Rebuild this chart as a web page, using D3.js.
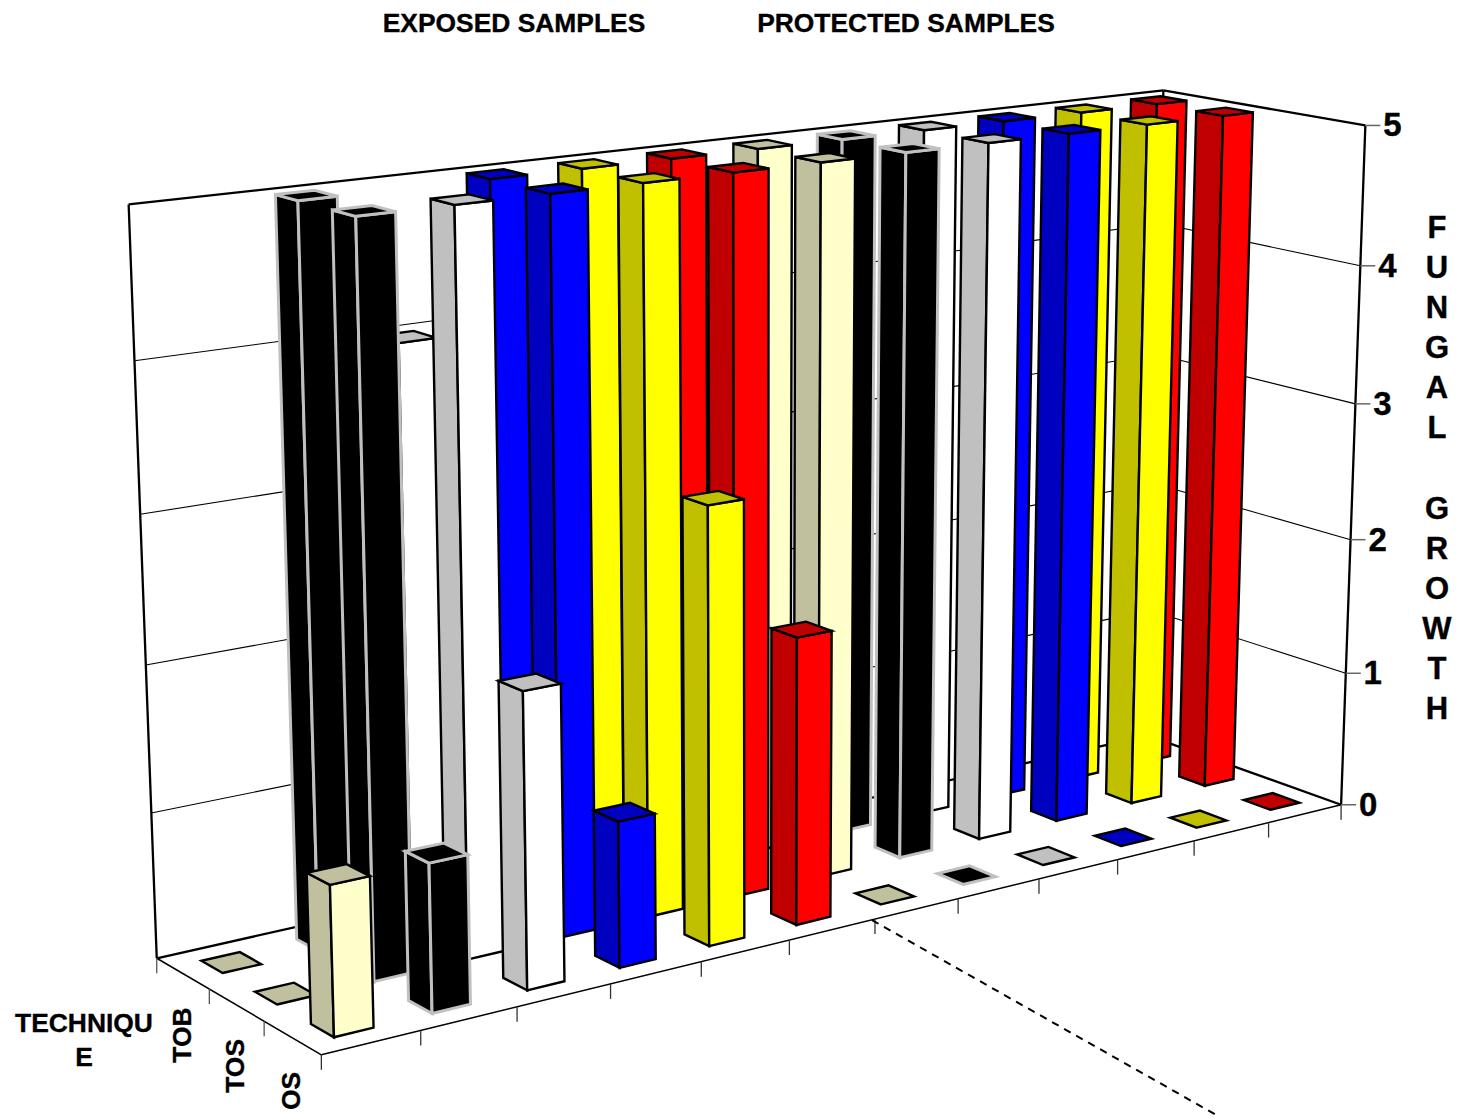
<!DOCTYPE html>
<html>
<head>
<meta charset="utf-8">
<script src="https://cdn.jsdelivr.net/npm/d3@7/dist/d3.min.js"></script>
<style>
html,body{margin:0;padding:0;background:#fff}
svg{display:block}
text{font-family:"Liberation Sans",Arial,sans-serif;font-weight:bold;fill:#000;stroke:#000;stroke-width:0.35px}
</style>
</head>
<body>
<svg id="chart" width="1460" height="1120"></svg>
<script>
// ---- data ----
const samples = ["E1","E2","E3","E4","E5","E6","P1","P2","P3","P4","P5","P6"];
const techniques = ["OS","TOS","TOB"];
const osValues  = [1,1,2,1,3,2,0,0,0,0,0,0];
const tosValues = [0,5,5,5,5,5,5,5,5,5,5,5];
const tobValues = [0,5,4,5,5,5,5,5,5,5,5,5];
const valueTicks = [0,1,2,3,4,5];
const faceColors = ["#FFFFCC","#000000","#FFFFFF","#0000FF","#FFFF00","#FF0000",
                    "#FFFFCC","#000000","#FFFFFF","#0000FF","#FFFF00","#FF0000"];
const sideColors = ["#C0C09F","#000000","#C0C0C0","#0000C0","#C0C000","#C00000",
                    "#C0C09F","#000000","#C0C0C0","#0000C0","#C0C000","#C00000"];
const edgeColors = ["#000","#C0C0C0","#000","#000","#000","#000",
                    "#000","#C0C0C0","#000","#000","#000","#000"];
const titles = ["EXPOSED SAMPLES","PROTECTED SAMPLES"];
const sideTitle = ["F","U","N","G","A","L","","G","R","O","W","T","H"];
const rowTitle = ["TECHNIQU","E"];

// ---- camera: 3x4 projection fitted to the box's visible corners ----
// [cell x, cell depth, value, pixel x, pixel y]
const anchors = [
  [0,0,0,321,1054],[12,0,0,1342,804],[0,3,0,157,958],[12,3,0,1147,736],
  [0,3,5,128,204],[12,3,5,1164,90],[12,0,5,1365,126],
  [12,0,1,1346,673],[12,0,4,1360,266],[0,3,1,152,813],[0,3,4,135,361],
  [6,0,0,875,920],[0,1,0,264,1021],[0,2,0,209,990]
];
function fitCamera(pts){
  const n=11, A=d3.range(n).map(()=>new Array(n+1).fill(0));
  const add=(r,b)=>{for(let i=0;i<n;i++){for(let j=0;j<n;j++)A[i][j]+=r[i]*r[j];A[i][n]+=r[i]*b;}};
  pts.forEach(([x,y,z,u,v])=>{
    add([x,y,z,1,0,0,0,0,-u*x,-u*y,-u*z],u);
    add([0,0,0,0,x,y,z,1,-v*x,-v*y,-v*z],v);
  });
  for(let c=0;c<n;c++){
    let p=c;for(let r=c+1;r<n;r++)if(Math.abs(A[r][c])>Math.abs(A[p][c]))p=r;
    [A[c],A[p]]=[A[p],A[c]];
    for(let r=0;r<n;r++){if(r===c)continue;const f=A[r][c]/A[c][c];
      for(let k=c;k<=n;k++)A[r][k]-=f*A[c][k];}
  }
  return A.map((row,i)=>row[n]/row[i]);
}
const P = fitCamera(anchors);
function project(x,y,z){
  const w=P[8]*x+P[9]*y+P[10]*z+1;
  return [(P[0]*x+P[1]*y+P[2]*z+P[3])/w,(P[4]*x+P[5]*y+P[6]*z+P[7])/w];
}

// ---- scales ----
const xBand = d3.scaleBand().domain(samples).range([0,12]).paddingInner(0.6).paddingOuter(0.3);
const yBand = d3.scaleBand().domain(techniques).range([0,3]).paddingInner(0.6).paddingOuter(0.3);
const zScale = d3.scaleLinear().domain([0,5]).range([0,5]);
const xMax=12, yMax=3, zTop=zScale(5);

const svg = d3.select("#chart");
const line = d3.line();
const seg = (a,b)=>line([project(...a),project(...b)]);
const poly = pts=>line(pts.map(p=>project(...p)))+"Z";

// ---- box ----
const box = svg.append("g").attr("fill","none").attr("stroke","#000");
valueTicks.filter(v=>v>0&&v<5).forEach(v=>{
  const z=zScale(v);
  box.append("path").attr("d",seg([0,yMax,z],[xMax,yMax,z])).attr("stroke-width",1.1);
  box.append("path").attr("d",seg([xMax,yMax,z],[xMax,0,z])).attr("stroke-width",1.1);
});
[[[0,yMax,0],[xMax,yMax,0]],[[xMax,yMax,0],[xMax,0,0]],[[0,yMax,0],[0,yMax,zTop]],
 [[0,yMax,zTop],[xMax,yMax,zTop]],[[xMax,yMax,zTop],[xMax,0,zTop]],[[xMax,0,0],[xMax,0,zTop]],
 [[xMax,yMax,0],[xMax,yMax,zTop]]].forEach(([a,b])=>
  box.append("path").attr("d",seg(a,b)).attr("stroke-width",2.3));
box.append("path").attr("d",seg([0,0,0],[xMax,0,0])).attr("stroke-width",1.5);
box.append("path").attr("d",seg([0,0,0],[0,yMax,0])).attr("stroke-width",1.5);

// floor ticks
const tickDrop = 15;
d3.range(0,xMax+1).forEach(i=>{
  const [px,py]=project(i,0,0);
  box.append("line").attr("x1",px).attr("y1",py).attr("x2",px).attr("y2",py+tickDrop)
     .attr("stroke","#333").attr("stroke-width",1.3);
});
d3.range(1,yMax+1).forEach(j=>{
  const [px,py]=project(0,j,0);
  box.append("line").attr("x1",px).attr("y1",py).attr("x2",px).attr("y2",py+tickDrop)
     .attr("stroke","#555").attr("stroke-width",1.3);
});

// value ticks + labels
valueTicks.forEach(v=>{
  const [px,py]=project(xMax,0,zScale(v));
  box.append("line").attr("x1",px).attr("y1",py).attr("x2",px+15).attr("y2",py)
     .attr("stroke","#666").attr("stroke-width",1.5);
  svg.append("text").attr("x",px+27).attr("y",py+11).attr("text-anchor","middle")
     .attr("font-size",33).text(v);
});

// ---- bars, back row first, right to left inside a row ----
const series = {OS:osValues,TOS:tosValues,TOB:tobValues};
const bars = [];
techniques.slice().reverse().forEach(t=>{
  samples.slice().reverse().forEach(s=>{
    const i=samples.indexOf(s);
    bars.push({s,t,i,value:series[t][i]});
  });
});
const barG = svg.append("g").selectAll("g").data(bars).join("g")
  .attr("stroke",d=>edgeColors[d.i])
  .attr("stroke-width",d=>edgeColors[d.i]==="#000"?2.4:3)
  .attr("stroke-linejoin","miter");
barG.each(function(d){
  const g=d3.select(this);
  const x0=xBand(d.s),x1=x0+xBand.bandwidth(),y0=yBand(d.t),y1=y0+yBand.bandwidth(),z=zScale(d.value);
  if(d.value>0){
    g.append("path").attr("fill",sideColors[d.i])
     .attr("d",poly([[x0,y1,0],[x0,y0,0],[x0,y0,z],[x0,y1,z]]));
    g.append("path").attr("fill",faceColors[d.i])
     .attr("d",poly([[x0,y0,0],[x1,y0,0],[x1,y0,z],[x0,y0,z]]));
  }
  g.append("path").attr("fill",sideColors[d.i])
   .attr("d",poly([[x0,y0,z],[x1,y0,z],[x1,y1,z],[x0,y1,z]]));
});

// ---- divider between exposed and protected: starts at the middle floor tick, runs off the page ----
const [divX,divY] = project(6,0,0);
svg.append("path").attr("d",line([[divX-3,divY+1],[divX+345,divY+198]]))
  .attr("fill","none").attr("stroke","#000").attr("stroke-width",2).attr("stroke-dasharray","7.5 6.3");

// ---- text ----
svg.append("text").attr("x",514).attr("y",32).attr("text-anchor","middle").attr("font-size",26.4).text(titles[0]);
svg.append("text").attr("x",906).attr("y",32).attr("text-anchor","middle").attr("font-size",26.4).text(titles[1]);
rowTitle.forEach((r,i)=>svg.append("text").attr("x",84).attr("y",1032+i*34).attr("text-anchor","middle").attr("font-size",26.4).text(r));
techniques.forEach(t=>{
  const j=yBand(t)+yBand.bandwidth()/2;
  const [px,py]=project(0,j,0);
  svg.append("text").attr("text-anchor","end").attr("font-size",26.4)
    .attr("transform",`translate(${px+8},${py+34}) rotate(-90)`).text(t);
});
sideTitle.forEach((c,i)=>{
  if(!c) return;
  const y=(i<6?238+i*40:519+(i-7)*40);
  svg.append("text").attr("x",1437).attr("y",y).attr("text-anchor","middle").attr("font-size",31).text(c);
});
</script>
</body>
</html>
